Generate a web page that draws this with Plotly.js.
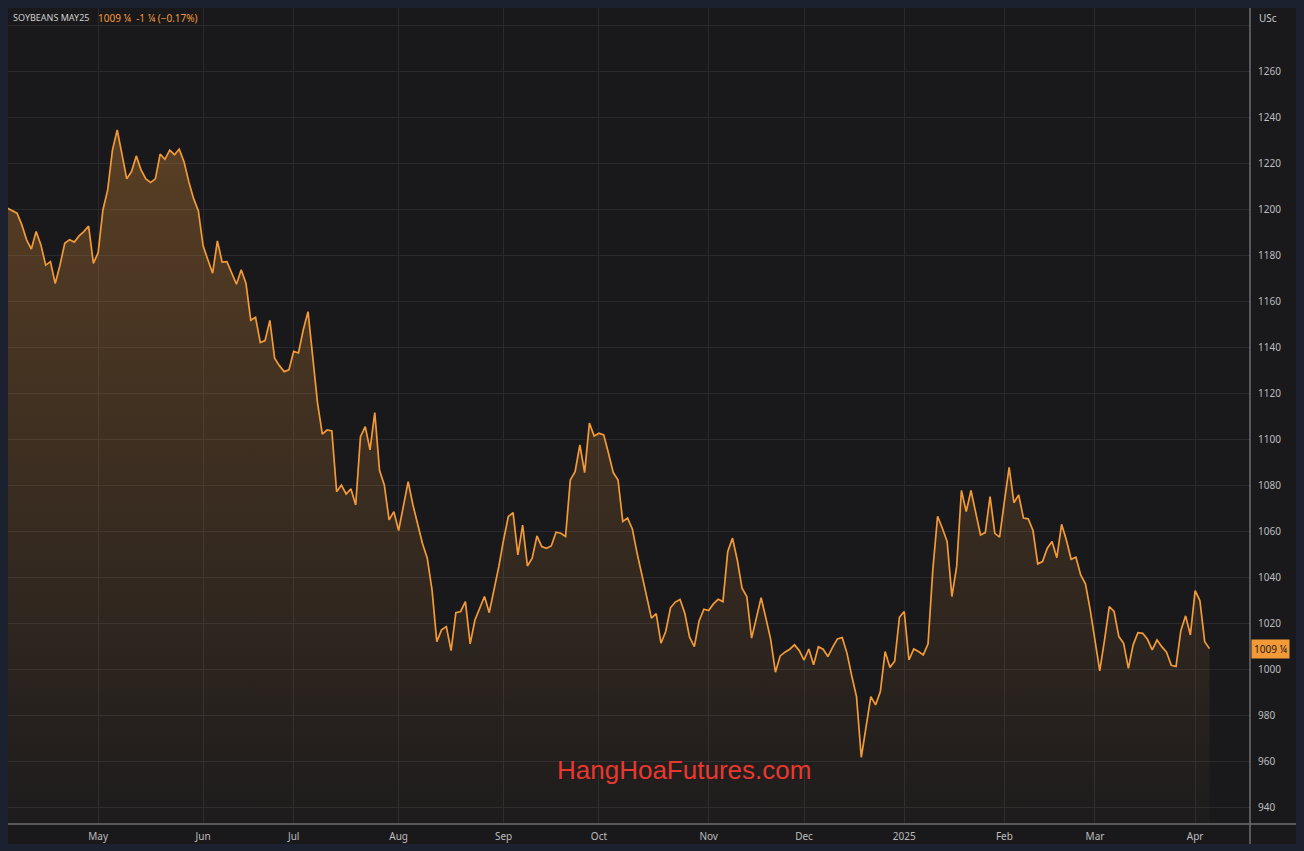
<!DOCTYPE html>
<html><head><meta charset="utf-8">
<script src="https://cdn.plot.ly/plotly-3.0.1.min.js"></script>
<style>
html,body{margin:0;padding:0;background:#1c2130;width:1304px;height:851px;overflow:hidden}
#chart{position:absolute;left:8px;top:8px;width:1288px;height:836px}
</style></head><body><div id="chart"></div>
<script>
// Daily settlement prices (US cents/bu), SOYBEANS MAY25
const prices = [
1200.7, 1199.8, 1198.6, 1193.5, 1187, 1183, 1190.6, 1184.8, 1176, 1177.5,
1168, 1176, 1185.5, 1187, 1186, 1188.7, 1190.6, 1193, 1176.8, 1181.4,
1200, 1208.7, 1226, 1234.8, 1224.6, 1213.5, 1216.7, 1223.5, 1217.4, 1213.5,
1212, 1213.5, 1224.3, 1222, 1226, 1224, 1226.4, 1221, 1212.3, 1205,
1199.7, 1184.5, 1178.3, 1172.5, 1186.5, 1177.3, 1177.5, 1172.5, 1167.7, 1174,
1168, 1152, 1153.3, 1142.3, 1143.2, 1152, 1135.5, 1132.3, 1129.7, 1130.5,
1138.5, 1137.8, 1147.8, 1155.8, 1134.8, 1116, 1102.5, 1104.3, 1103.9, 1077.5,
1080.4, 1076.5, 1078.7, 1071.7, 1101.4, 1105.8, 1095.7, 1111.9, 1086.7, 1080.4,
1065.2, 1068.8, 1060.6, 1071, 1081.9, 1071.7, 1062.7, 1055, 1048.6, 1034.8,
1012.3, 1017.4, 1018.8, 1008.4, 1024.9, 1025.4, 1029.7, 1011.3, 1021.7, 1026.8,
1031.9, 1024.9, 1034.8, 1044.9, 1056.5, 1066.7, 1068.4, 1050, 1063, 1045.2,
1048.6, 1058.3, 1053.6, 1052.9, 1053.9, 1059.9, 1059.4, 1058, 1082.6, 1086.2,
1097.8, 1085.8, 1107.3, 1101.7, 1102.9, 1102.2, 1094.2, 1085.8, 1082.6, 1064.5,
1066, 1061.3, 1050.7, 1040.6, 1032, 1022.5, 1024.5, 1011.6, 1016.7, 1027,
1029.5, 1030.6, 1024.6, 1014.2, 1010.1, 1021.3, 1026.4, 1025.8, 1028.7, 1030.7,
1029.7, 1051.4, 1057.3, 1047.8, 1035.5, 1031.9, 1013.8, 1022.5, 1031.4, 1022.5,
1013.3, 999, 1006.1, 1007.7, 1009, 1010.9, 1008.4, 1004.3, 1009.1, 1002.2,
1010.1, 1009, 1005.8, 1009.9, 1013.5, 1014.1, 1007.3, 997.4, 988.4, 962,
974.6, 988.4, 984.8, 990.6, 1008, 1001.1, 1003.8, 1022.9, 1025.4, 1004.3,
1009.1, 1008, 1006.5, 1011.3, 1043.5, 1066.8, 1061.6, 1055.8, 1031.9, 1045,
1078, 1068.8, 1078, 1068.1, 1058.7, 1059.7, 1075.4, 1059.4, 1057.7, 1073.2,
1088.1, 1072.7, 1076.1, 1066, 1065.7, 1060.6, 1046.1, 1047.1, 1052.9, 1055.8,
1048.8, 1063.3, 1056.5, 1048.1, 1049, 1041.3, 1037.4, 1026.1, 1013, 999.6,
1013, 1027.5, 1025.4, 1014.5, 1011.6, 1000.7, 1010.9, 1016.2, 1015.9, 1013.3,
1008.7, 1013, 1010.1, 1007.7, 1002, 1001.5, 1017.1, 1023.5, 1015.2, 1034.5,
1030.1, 1012.3, 1009.25
];
const startDate = '2024-04-04';
const holidays = ['2024-05-27','2024-06-19','2024-07-04','2024-09-02','2024-11-28','2024-12-25','2025-01-01','2025-01-20','2025-02-17'];
const monthLabels = ['May','Jun','Jul','Aug','Sep','Oct','Nov','Dec','2025','Feb','Mar','Apr'];
const yTicks = [940,960,980,1000,1020,1040,1060,1080,1100,1120,1140,1160,1180,1200,1220,1240,1260,1280];
const lastLabel = '1009 ¼';
const headerName = 'SOYBEANS MAY25';
const headerChange = '1009 ¼  -1 ¼ (−0.17%)';

// trading-day calendar
const dates = [];
let d = new Date(startDate + 'T12:00:00Z');
while (dates.length < prices.length) {
  const s = d.toISOString().slice(0,10);
  const wd = d.getUTCDay();
  if (wd !== 0 && wd !== 6 && holidays.indexOf(s) < 0) dates.push(s);
  d = new Date(d.getTime() + 86400000);
}
const tickvals = [];
let prevMonth = dates[0].slice(0,7);
for (const s of dates) {
  const m = s.slice(0,7);
  if (m !== prevMonth) { tickvals.push(s); prevMonth = m; }
}

const orange = '#f39a38';
const trace = {
  type: 'scatter', mode: 'lines', x: dates, y: prices,
  line: {color: orange, width: 1.7},
  fill: 'tozeroy',
  fillgradient: {type: 'vertical', start: 933, stop: 1240,
    colorscale: [[0, 'rgba(243,154,56,0.02)'], [1, 'rgba(243,154,56,0.30)']]},
  hoverinfo: 'skip'
};

const gridC = '#2a2a2e';
const layout = {
  width: 1288, height: 836,
  margin: {l: 0, r: 46, t: 0, b: 20},
  paper_bgcolor: '#19191c', plot_bgcolor: '#19191c',
  showlegend: false,
  font: {family: 'Noto Sans, Arial, sans-serif', size: 10, color: '#bdbdbd'},
  xaxis: {
    type: 'category', range: [0.1, 260.5],
    tickmode: 'array', tickvals: tickvals, ticktext: monthLabels.slice(0, tickvals.length),
    showgrid: true, gridcolor: gridC, gridwidth: 1,
    ticks: 'outside', ticklen: 3, tickcolor: 'rgba(0,0,0,0)',
    tickfont: {size: 10, color: '#bdbdbd'},
    showline: false, zeroline: false, fixedrange: true
  },
  yaxis: {
    side: 'right', range: [933, 1287.8],
    tickmode: 'array', tickvals: yTicks,
    ticktext: yTicks.map(v => v === 1280 ? '' : String(v)),
    showgrid: true, gridcolor: gridC, gridwidth: 1,
    ticks: 'outside', ticklen: 5, tickcolor: 'rgba(0,0,0,0)',
    tickfont: {size: 10, color: '#bdbdbd'},
    showline: false, zeroline: false, fixedrange: true
  },
  shapes: [
    {type: 'line', xref: 'paper', yref: 'paper', x0: 0, x1: 1.04, y0: 0, y1: 0,
     line: {color: '#6e6e72', width: 1.5}},
    {type: 'line', xref: 'paper', yref: 'paper', x0: 1, x1: 1, y0: -0.03, y1: 1,
     line: {color: '#6e6e72', width: 1.5}}
  ],
  annotations: [
    {xref: 'paper', yref: 'paper', x: 0.0024, y: 0.988, xanchor: 'left', yanchor: 'middle',
     showarrow: false, font: {family: 'Noto Sans, sans-serif', size: 9, color: '#cfcfcf'}, text: headerName},
    {xref: 'paper', yref: 'paper', x: 0.0705, y: 0.988, xanchor: 'left', yanchor: 'middle',
     showarrow: false, font: {size: 10, color: orange}, text: headerChange},
    {xref: 'paper', yref: 'paper', x: 1.006, y: 0.988, xanchor: 'left', yanchor: 'middle',
     showarrow: false, text: 'USc', font: {size: 10, color: '#c8c8c8'}},
    {xref: 'paper', yref: 'y', x: 1.001, y: prices[prices.length-1], xanchor: 'left', yanchor: 'middle',
     showarrow: false, text: lastLabel, bgcolor: orange, borderpad: 2,
     font: {size: 10, color: '#1a1a1a'}},
    {xref: 'paper', yref: 'paper', x: 0.544, y: 0.066, xanchor: 'center', yanchor: 'middle',
     showarrow: false, text: 'HangHoaFutures.com',
     font: {family: 'Liberation Sans, Arial, sans-serif', size: 26, color: '#e8382f'}}
  ]
};
Plotly.newPlot('chart', [trace], layout, {displayModeBar: false, staticPlot: true});
</script></body></html>
